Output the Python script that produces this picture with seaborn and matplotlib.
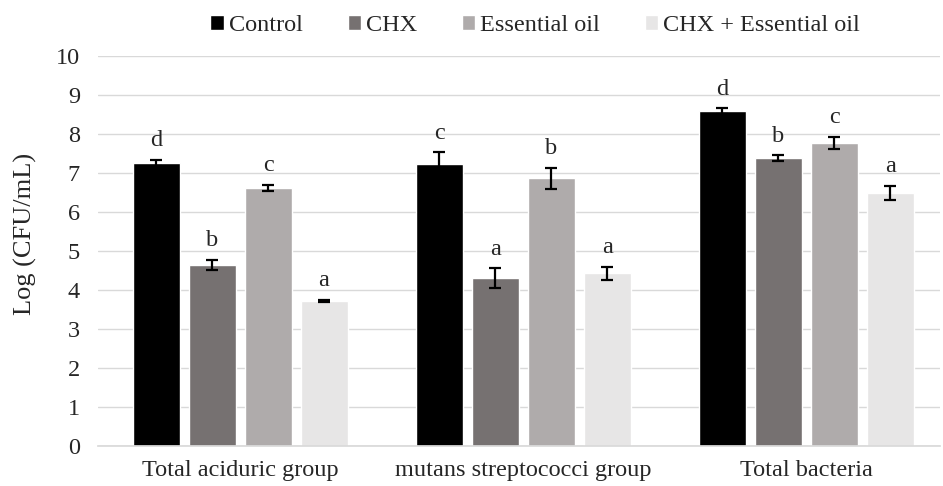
import matplotlib
matplotlib.use("Agg")
import matplotlib.pyplot as plt
import numpy as np
import pandas as pd
import seaborn as sns

# Data
groups = ["Total aciduric group", "mutans streptococci group", "Total bacteria"]
treatments = ["Control", "CHX", "Essential oil", "CHX + Essential oil"]
control = [7.26, 7.23, 8.59]
chx = [4.64, 4.31, 7.38]
oil = [6.62, 6.87, 7.77]
chx_oil = [3.72, 4.43, 6.49]
control_err = [0.08, 0.30, 0.07]
chx_err = [0.13, 0.25, 0.07]
oil_err = [0.07, 0.27, 0.15]
chx_oil_err = [0.03, 0.17, 0.18]
control_lbl = ["d", "c", "d"]
chx_lbl = ["b", "a", "b"]
oil_lbl = ["c", "b", "c"]
chx_oil_lbl = ["a", "a", "a"]

colors = ["#000000", "#767171", "#AFABAB", "#E7E6E6"]

sns.set_theme(style="white")
plt.rcParams["font.family"] = ["Liberation Serif", "DejaVu Serif"]

rows = []
for t, vals, errs, lbls in zip(
    treatments,
    [control, chx, oil, chx_oil],
    [control_err, chx_err, oil_err, chx_oil_err],
    [control_lbl, chx_lbl, oil_lbl, chx_oil_lbl],
):
    for g, v, e, l in zip(groups, vals, errs, lbls):
        rows.append({"group": g, "treatment": t, "value": v, "err": e, "label": l})
df = pd.DataFrame(rows)

fig = plt.figure(figsize=(9.43, 4.86), dpi=100)
ax = fig.add_axes([0.104, 0.082, 0.893, 0.803])

sns.barplot(
    data=df,
    x="group",
    y="value",
    hue="treatment",
    hue_order=treatments,
    palette=colors,
    width=0.79,
    gap=0.16,
    errorbar=None,
    saturation=1,
    ax=ax,
)

# error bars and significance letters, one container per treatment
for cont, t in zip(ax.containers, treatments):
    sub = df[df["treatment"] == t].set_index("group").loc[groups]
    for bar, (_, r) in zip(cont, sub.iterrows()):
        xc = bar.get_x() + bar.get_width() / 2
        ax.errorbar(xc, r["value"], yerr=r["err"], fmt="none", ecolor="black",
                    elinewidth=1.6, capsize=4.5, capthick=1.6)
        ax.text(xc, r["value"] + r["err"] + 0.22, r["label"], ha="center",
                va="bottom", fontsize=17.5)

ax.set_xlim(-0.502, 2.473)
ax.set_ylim(0, 10)
ax.set_yticks(range(0, 11))
ax.yaxis.grid(True, color="#D9D9D9", linewidth=1)
ax.set_axisbelow(True)
for s in ["top", "right", "left"]:
    ax.spines[s].set_visible(False)
ax.spines["bottom"].set_color("#D9D9D9")
ax.tick_params(axis="y", labelsize=17.5, length=0, pad=13)
ax.tick_params(axis="x", labelsize=17.5, length=0, pad=10)
ax.set_xlabel("")
ax.set_ylabel("Log (CFU/mL)", fontsize=19, labelpad=14)
ax.yaxis.set_label_coords(-0.072, 0.545)

ax.legend(
    loc="center",
    bbox_to_anchor=(0.519, 1.078),
    ncol=4,
    frameon=False,
    fontsize=17.5,
    handlelength=0.55,
    handleheight=0.55,
    handletextpad=0.2,
    columnspacing=1.85,
    borderaxespad=0,
    title=None,
)

fig.savefig("out.png", dpi=100)
